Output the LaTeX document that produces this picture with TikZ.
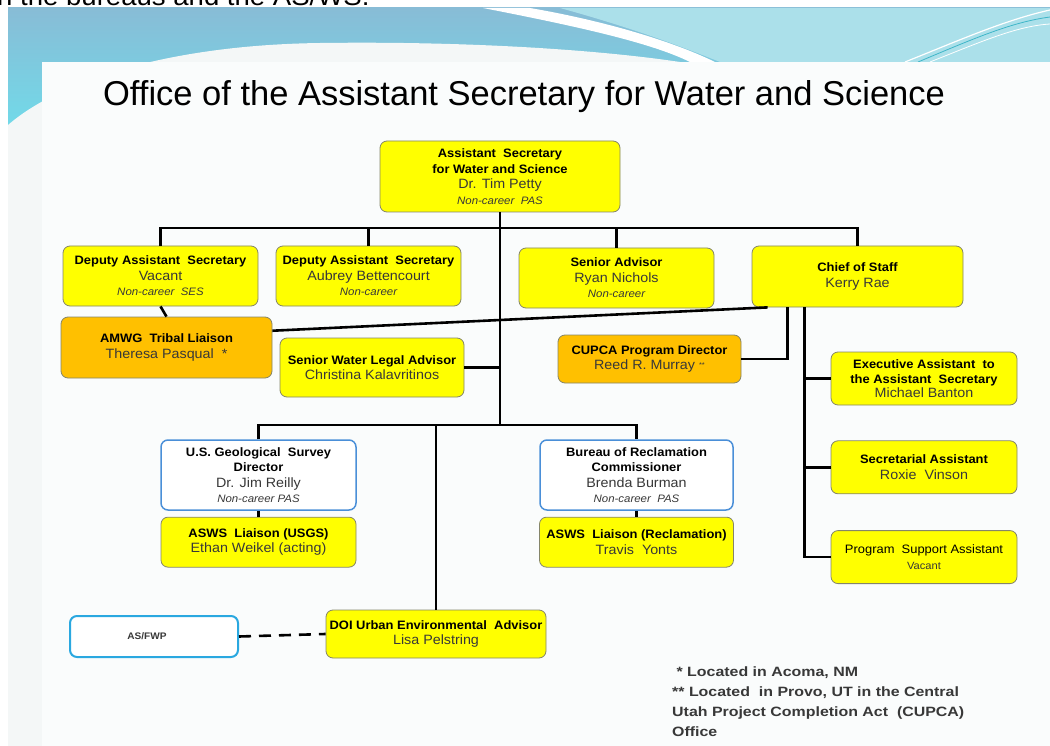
\documentclass[tikz,border=0pt]{standalone}
\usepackage{fontspec}
\setmainfont{Liberation Sans}[FakeStretch=1.06]
\newfontfamily\headfont{Liberation Sans}
\newfontfamily\notefont{Liberation Sans}[FakeStretch=1.18]
\usetikzlibrary{positioning, calc}

\definecolor{boxyellow}{HTML}{FFFF00}
\definecolor{boxorange}{HTML}{FFC000}
\definecolor{boxedge}{HTML}{85856A}
\definecolor{bureauedge}{HTML}{4A8FD8}
\definecolor{fwpedge}{HTML}{2AA8E0}
\definecolor{nametext}{HTML}{383838}
\definecolor{skytop}{HTML}{88BCD6}
\definecolor{skylow}{HTML}{70DCEA}
\definecolor{skylight}{HTML}{ABE0EA}
\definecolor{skyline}{HTML}{3FB6C8}
\definecolor{slidegray}{HTML}{F4F7F7}
\definecolor{panelwhite}{HTML}{FAFCFC}

\tikzset{
    orgbox/.style={rectangle, rounded corners=7pt, draw=boxedge, line width=0.8pt, align=center, inner sep=2pt, font=\fontsize{12.2}{15.5}\selectfont}, % every box of the chart
    yellowbox/.style={orgbox, fill=boxyellow},
    orangebox/.style={orgbox, fill=boxorange},
    bureaubox/.style={orgbox, fill=white, draw=bureauedge, line width=1.5pt},
    link/.style={line width=2.6pt, black}
}
\newcommand{\jobtitle}[1]{{\bfseries #1}}
\newcommand{\holder}[1]{{\fontsize{13.5}{15.5}\selectfont\color{nametext}#1}}
\newcommand{\hiring}[1]{{\fontsize{10.8}{12}\selectfont\itshape\color{nametext}#1}}

\begin{document}
\begin{tikzpicture}[x=1pt, y=-1pt]
    \useasboundingbox (0,0) rectangle (1050,746);
    \clip (0,0) rectangle (1050,746);
    % slide background
    \fill[white] (0,0) rectangle (1050,746);
    \fill[slidegray] (8,8) rectangle (1050,746);
    \shade[top color=skytop, bottom color=skylow] (8,8) rectangle (1050,135);
    \fill[skylight] (560,8) .. controls (640,30) and (690,50) .. (720,62) -- (1050,62) -- (1050,8) -- cycle;
    \fill[slidegray] (8,125) .. controls (60,80) and (170,45) .. (320,43) .. controls (470,41) and (600,50) .. (680,62) -- (680,135) -- (8,135) -- cycle;
    \fill[white] (483,8) .. controls (570,25) and (650,42) .. (690,62) -- (715,62) .. controls (670,40) and (600,20) .. (530,8) -- cycle;
    \draw[white, line width=1.2pt] (905,62) .. controls (960,40) and (1005,20) .. (1050,10);
    \draw[skyline, line width=0.8pt] (918,62) .. controls (975,38) and (1012,22) .. (1050,17);
    \draw[white, line width=0.8pt] (930,62) .. controls (985,40) and (1018,26) .. (1050,24);
    \fill[panelwhite] (42,62) rectangle (1050,746);
    \node[anchor=base west, inner sep=0, font=\fontsize{26}{30}\selectfont] (caption) at (-3,6) {n the bureaus and the AS/WS.};
    \node[anchor=base, inner sep=0, font=\headfont\fontsize{34.5}{38}\selectfont] (title) at (524,106) {Office of the Assistant Secretary for Water and Science};

    % chart boxes
    \node[yellowbox, minimum width=240pt, minimum height=71pt] (asws) at (500,176.5)
        {\jobtitle{Assistant\ \ Secretary}\\\jobtitle{for Water and Science}\\\holder{Dr. Tim Petty}\\\hiring{Non-career\ \ PAS}};
    \node[yellowbox, minimum width=195pt, minimum height=60pt] (depone) at (160.5,276)
        {\jobtitle{Deputy Assistant\ \ Secretary}\\\holder{Vacant}\\\hiring{Non-career\ \ SES}};
    \node[yellowbox, minimum width=185pt, minimum height=60pt] (deptwo) at (368.5,276)
        {\jobtitle{Deputy Assistant\ \ Secretary}\\\holder{Aubrey Bettencourt}\\\hiring{Non-career}};
    \node[yellowbox, minimum width=195pt, minimum height=60pt] (advisor) at (616.5,278)
        {\jobtitle{Senior Advisor}\\\holder{Ryan Nichols}\\\hiring{Non-career}};
    \node[yellowbox, minimum width=211pt, minimum height=61pt] (chief) at (857.5,276.5)
        {\jobtitle{Chief of Staff}\\\holder{Kerry Rae}};
    \node[orangebox, minimum width=211pt, minimum height=61pt] (amwg) at (166.5,347.5)
        {\jobtitle{AMWG\ \ Tribal Liaison}\\\holder{Theresa Pasqual\ \ *}};
    \node[yellowbox, minimum width=184pt, minimum height=59pt] (legal) at (372,367.5)
        {\jobtitle{Senior Water Legal Advisor}\\\holder{Christina Kalavritinos}};
    \node[orangebox, minimum width=183pt, minimum height=48pt] (cupca) at (649.5,359)
        {\jobtitle{CUPCA Program Director}\\\holder{Reed R. Murray {\fontsize{7}{8}\selectfont\raisebox{2pt}{**}}}};
    \node[yellowbox, minimum width=186pt, minimum height=53pt] (execa) at (924,378.5)
        {\jobtitle{Executive Assistant\ \ to}\\\jobtitle{the Assistant\ \ Secretary}\\[-2pt]\holder{Michael Banton}};
    \node[yellowbox, minimum width=186pt, minimum height=53pt, below=35pt of execa] (secra)
        {\jobtitle{Secretarial Assistant}\\\holder{Roxie\ \ Vinson}};
    \node[yellowbox, minimum width=186pt, minimum height=53pt, below=36pt of secra] (psa)
        {\fontsize{12.2}{14}\selectfont Program\ \ Support Assistant\\{\fontsize{10.5}{13}\selectfont\color{nametext}Vacant}};
    \node[bureaubox, minimum width=195pt, minimum height=70pt] (usgs) at (258.5,475)
        {\jobtitle{U.S. Geological\ \ Survey}\\\jobtitle{Director}\\\holder{Dr. Jim Reilly}\\\hiring{Non-career PAS}};
    \node[yellowbox, minimum width=195pt, minimum height=50pt, below=6pt of usgs] (usgsliaison)
        {\jobtitle{ASWS\ \ Liaison (USGS)}\\\holder{Ethan Weikel (acting)}};
    \node[bureaubox, minimum width=193pt, minimum height=70pt] (reclam) at (636.5,475)
        {\jobtitle{Bureau of Reclamation}\\\jobtitle{Commissioner}\\\holder{Brenda Burman}\\\hiring{Non-career\ \ PAS}};
    \node[yellowbox, minimum width=194pt, minimum height=50pt, below=6pt of reclam] (recliaison)
        {\jobtitle{ASWS\ \ Liaison (Reclamation)}\\\holder{Travis\ \ Yonts}};
    \node[yellowbox, minimum width=220pt, minimum height=48pt] (urban) at (436,634)
        {\jobtitle{DOI Urban Environmental\ \ Advisor}\\\holder{Lisa Pelstring}};
    \node[orgbox, fill=white, draw=fwpedge, line width=2pt, minimum width=168pt, minimum height=41pt] (fwp) at (154,636.5)
        {\hspace*{-14pt}\fontsize{9.5}{12}\selectfont\bfseries\color{nametext}AS/FWP};
    \node[anchor=base west, align=left, inner sep=0, text=nametext, font=\notefont\bfseries\fontsize{13.5}{20}\selectfont] (notes) at (672,736)
        {\ *\ Located in Acoma, NM\\** Located\ \ in Provo, UT in the Central\\Utah Project Completion Act\ \ (CUPCA)\\Office};

    % connectors
    \coordinate (topbar) at (0,228);
    \coordinate (lowbar) at (0,425);
    \draw[link] (depone.north) -- (depone.north |- topbar) -- (chief.north |- topbar) -- (chief.north);
    \draw[link] (deptwo.north) -- (deptwo.north |- topbar);
    \draw[link] (advisor.north) -- (advisor.north |- topbar);
    \draw[link] (asws.south) -- (asws.south |- lowbar);
    \draw[link] (usgs.north) -- (usgs.north |- lowbar) -- (reclam.north |- lowbar) -- (reclam.north);
    \draw[link] (urban.north) -- (urban.north |- lowbar);
    \draw[link] (legal.east) -- (legal.east -| asws.south);
    \draw[link] (depone.south) -- (amwg.north);
    \draw[link] ($(chief.south west)+(16,0)$) -- (amwg.9);
    \draw[link] ($(chief.south west)+(36,0)$) |- (cupca.east);
    \coordinate (staffline) at ($(chief.south west)+(53,0)$);
    \draw[link] (staffline) |- (psa.west);
    \draw[link] (execa.west) -- (execa.west -| staffline);
    \draw[link] (secra.west) -- (secra.west -| staffline);
    \draw[link] (usgs.south) -- (usgsliaison.north);
    \draw[link] (reclam.south) -- (recliaison.north);
    \draw[link, dash pattern=on 12pt off 8pt] (fwp.east) -- (urban.west);
\end{tikzpicture}
\end{document}
